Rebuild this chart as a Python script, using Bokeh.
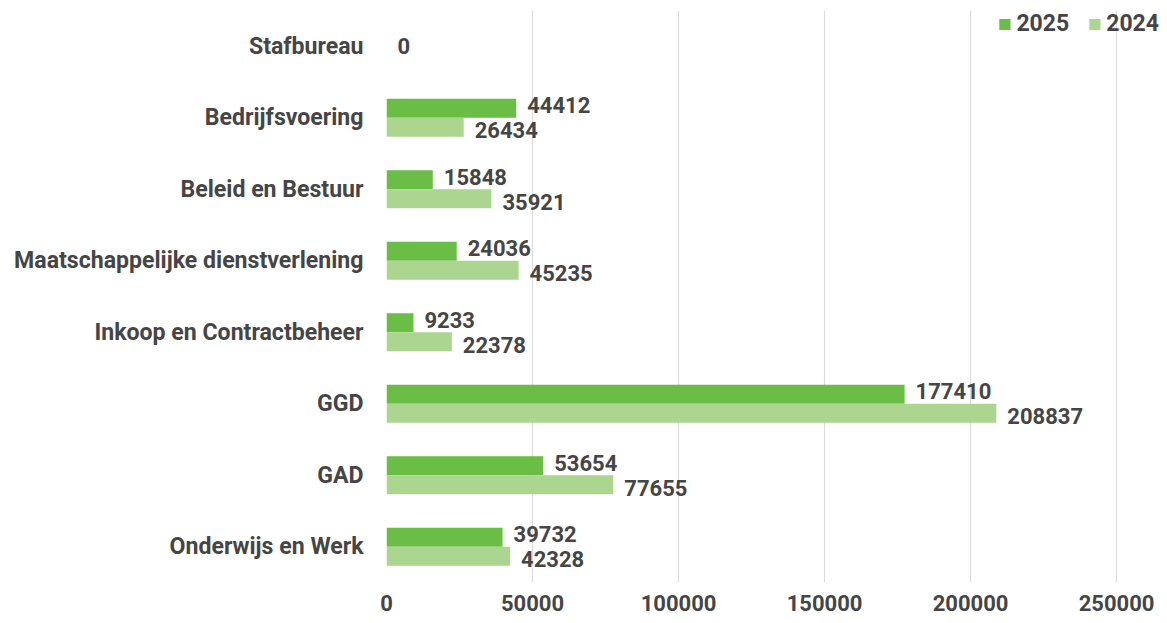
from bokeh.plotting import figure
from bokeh.models import (FactorRange, Range1d, FixedTicker, ColumnDataSource, Legend,
                          LegendItem, NumeralTickFormatter)
from bokeh.transform import dodge
from bokeh.core.properties import value
from bokeh.embed import file_html
from bokeh.resources import INLINE

categories = ["Stafbureau", "Bedrijfsvoering", "Beleid en Bestuur",
              "Maatschappelijke dienstverlening", "Inkoop en Contractbeheer",
              "GGD", "GAD", "Onderwijs en Werk"]
v2025 = [0, 44412, 15848, 24036, 9233, 177410, 53654, 39732]
v2024 = [None, 26434, 35921, 45235, 22378, 208837, 77655, 42328]
x_ticks = [0, 50000, 100000, 150000, 200000, 250000]
series_names = ["2025", "2024"]

C25 = "#6abd45"
C24 = "#acd58f"
TXT = "#454545"
FONT = "Roboto"

p = figure(frame_width=773, frame_height=572, output_backend="svg", toolbar_location=None,
           y_range=FactorRange(factors=categories[::-1], range_padding=0),
           x_range=Range1d(0, 264700),
           min_border_left=386, min_border_right=0, min_border_top=10, min_border_bottom=33)
p.outline_line_color = None
p.background_fill_color = None
p.border_fill_color = "white"

paired = [i for i in range(len(categories)) if v2024[i] is not None]
single = [i for i in range(len(categories)) if v2024[i] is None]

src = ColumnDataSource(dict(
    cat=[categories[i] for i in paired],
    a=[v2025[i] for i in paired],
    b=[v2024[i] for i in paired],
    la=[str(v2025[i]) for i in paired],
    lb=[str(v2024[i]) for i in paired],
))
src1 = ColumnDataSource(dict(
    cat=[categories[i] for i in single],
    a=[v2025[i] for i in single],
    la=[str(v2025[i]) for i in single],
))

h = 0.265
r25 = p.hbar(y=dodge("cat", h / 2, range=p.y_range), left=0, right="a", height=h,
             source=src, fill_color=C25, line_color=None)
r24 = p.hbar(y=dodge("cat", -h / 2, range=p.y_range), left=0, right="b", height=h,
             source=src, fill_color=C24, line_color=None)

lab_kw = dict(text_font=value(FONT), text_font_style="bold", text_font_size="22px",
              text_color=TXT, text_baseline="middle", text_align="left", x_offset=11)
p.text(x="a", y=dodge("cat", h / 2, range=p.y_range), text="la", source=src, y_offset=-3, **lab_kw)
p.text(x="b", y=dodge("cat", -h / 2, range=p.y_range), text="lb", source=src, y_offset=3, **lab_kw)
p.text(x="a", y="cat", text="la", source=src1, **lab_kw)

# axes
p.xaxis.ticker = FixedTicker(ticks=x_ticks)
p.xaxis.formatter = NumeralTickFormatter(format="0")
p.xaxis.axis_line_color = None
p.xaxis.major_tick_line_color = None
p.xaxis.minor_tick_line_color = None
p.xaxis.major_label_text_font = FONT
p.xaxis.major_label_text_font_style = "bold"
p.xaxis.major_label_text_font_size = "22px"
p.xaxis.major_label_text_color = TXT
p.xaxis.major_label_standoff = 6

p.yaxis.axis_line_color = None
p.yaxis.major_tick_line_color = None
p.yaxis.minor_tick_line_color = None
p.yaxis.major_label_text_font = FONT
p.yaxis.major_label_text_font_style = "bold"
p.yaxis.major_label_text_font_size = "23.1px"
p.yaxis.major_label_text_color = TXT
p.yaxis.major_label_standoff = 17

p.xgrid.grid_line_color = "#dcdcdc"
p.xgrid.grid_line_width = 1.2
p.ygrid.grid_line_color = None

legend = Legend(items=[LegendItem(label=series_names[0], renderers=[r25]),
                       LegendItem(label=series_names[1], renderers=[r24])],
                orientation="horizontal", location="top_right",
                border_line_color=None, background_fill_alpha=0,
                label_text_font=FONT, label_text_font_style="bold",
                label_text_font_size="23px", label_text_color=TXT,
                glyph_width=14, glyph_height=14, label_standoff=5, spacing=18,
                padding=4, margin=0)
p.add_layout(legend)

open("out.html", "w").write(file_html(p, INLINE))
